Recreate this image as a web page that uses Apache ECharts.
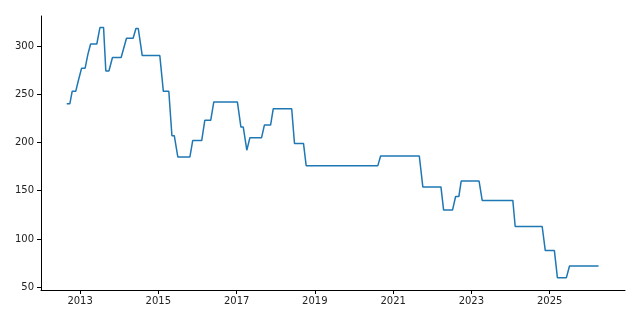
<!DOCTYPE html>
<html>
<head>
<meta charset="utf-8">
<script src="https://cdn.jsdelivr.net/npm/echarts@6/dist/echarts.min.js"></script>
<style>html,body{margin:0;padding:0;background:#fff}#c{width:640px;height:320px}</style>
</head>
<body>
<div id="c"></div>
<script>
const dates = [
  '2012-08-29','2012-09-27','2012-10-19','2012-11-21','2012-12-20','2013-01-15','2013-02-17','2013-03-14',
  '2013-04-09','2013-06-06','2013-07-05','2013-08-08','2013-08-29','2013-09-27','2013-10-30','2014-01-19',
  '2014-03-10','2014-05-11','2014-06-06','2014-06-28','2014-08-04','2015-01-15','2015-02-17','2015-04-09',
  '2015-05-08','2015-05-30','2015-07-02','2015-10-23','2015-11-18','2016-02-10','2016-03-10','2016-05-04',
  '2016-06-02','2017-01-08','2017-02-10','2017-03-04','2017-04-06','2017-05-05','2017-08-22','2017-09-17',
  '2017-11-14','2017-12-09','2018-05-30','2018-06-25','2018-09-17','2018-10-12','2020-08-11','2020-09-06',
  '2021-09-02','2021-10-05','2022-03-23','2022-04-17','2022-07-09','2022-08-07','2022-09-06','2022-09-28',
  '2023-03-14','2023-04-12','2024-01-23','2024-02-14','2024-10-23','2024-11-21','2025-02-14','2025-03-14',
  '2025-06-06','2025-07-05','2026-04-02'
];
const values = [
  240,240,253,253,266,277,277,291,
  302,302,319,319,274,274,288,288,
  308,308,318,318,290,290,253,253,
  207,207,185,185,202,202,223,223,
  242,242,216,216,192,205,205,218,
  218,235,235,199,199,176,176,186,
  186,154,154,130,130,144,144,160,
  160,140,140,113,113,88,88,60,
  60,72,72
];
const xTickYears = [2013, 2015, 2017, 2019, 2021, 2023, 2025];
const yTicks = [50, 100, 150, 200, 250, 300];

const ts = s => new Date(s + 'T00:00:00Z').getTime();
const xTickValues = xTickYears.map(y => Date.UTC(y, 0, 1));
const seriesData = dates.map((d, i) => [ts(d), values[i]]);

const chart = echarts.init(document.getElementById('c'), null, {renderer: 'canvas'});
const axisTextStyle = {color: '#222', fontFamily: 'DejaVu Sans', fontSize: 10};
chart.setOption({
  animation: false,
  backgroundColor: '#fff',
  grid: {left: 41, right: 15, top: 16, bottom: 30, containLabel: false},
  xAxis: {
    type: 'value',
    scale: true,
    min: Date.UTC(2012, 0, 2),
    max: Date.UTC(2026, 11, 5),
    splitLine: {show: false},
    axisLine: {show: true, onZero: false, lineStyle: {color: '#000', width: 1}},
    axisTick: {show: true, length: 4, lineStyle: {color: '#000'}, customValues: xTickValues},
    axisLabel: Object.assign({
      margin: 6,
      customValues: xTickValues,
      formatter: v => String(new Date(v).getUTCFullYear()),
      hideOverlap: false
    }, axisTextStyle)
  },
  yAxis: {
    type: 'value',
    min: 47.2,
    max: 331,
    splitLine: {show: false},
    axisLine: {show: true, lineStyle: {color: '#000', width: 1}},
    axisTick: {show: true, length: 4, lineStyle: {color: '#000'}, customValues: yTicks},
    axisLabel: Object.assign({margin: 7, customValues: yTicks}, axisTextStyle)
  },
  series: [{
    type: 'line',
    data: seriesData,
    showSymbol: false,
    lineStyle: {color: '#1f77b4', width: 1.5},
    itemStyle: {color: '#1f77b4'}
  }]
});
</script>
</body>
</html>
